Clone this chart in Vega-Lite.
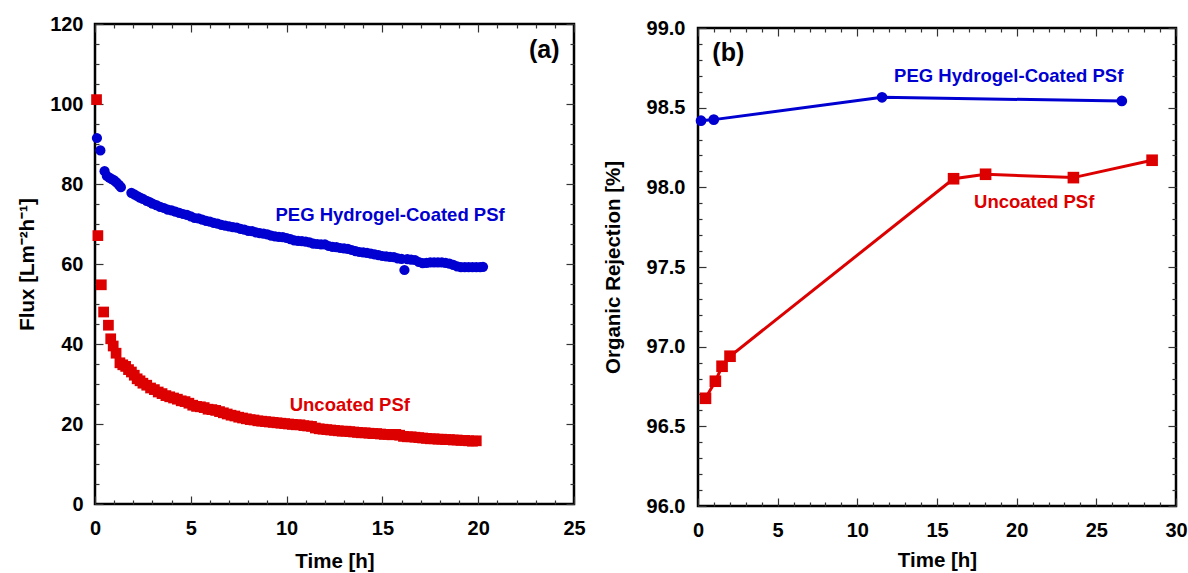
{
  "$schema": "https://vega.github.io/schema/vega-lite/v6.json",
  "padding": {"left": 16, "top": 12, "right": 0, "bottom": 0},
  "background": "white",
  "config": {
    "view": {"stroke": "black", "strokeWidth": 2.5},
    "axis": {
      "labelFont": "Liberation Sans", "labelFontWeight": "bold", "labelFontSize": 20, "labelColor": "black",
      "titleFont": "Liberation Sans", "titleFontWeight": "bold", "titleFontSize": 20.5, "titleColor": "black",
      "domain": false, "grid": false, "tickColor": "#333", "tickWidth": 1.2,
      "labelFlush": false, "labelOverlap": false
    },
    "text": {"font": "Liberation Sans", "fontWeight": "bold"}
  },
  "datasets": {
    "flux": [
      {"series": "coated", "t": 0.1, "flux": 91.5},
      {"series": "coated", "t": 0.28, "flux": 88.4},
      {"series": "coated", "t": 0.5, "flux": 83.2},
      {"series": "coated", "t": 0.62, "flux": 82.0},
      {"series": "coated", "t": 0.75, "flux": 81.6},
      {"series": "coated", "t": 0.88, "flux": 81.2},
      {"series": "coated", "t": 1.0, "flux": 80.9},
      {"series": "coated", "t": 1.12, "flux": 80.4},
      {"series": "coated", "t": 1.25, "flux": 79.8},
      {"series": "coated", "t": 1.35, "flux": 79.2},
      {"series": "coated", "t": 1.9, "flux": 77.8},
      {"series": "coated", "t": 2.05, "flux": 77.4},
      {"series": "coated", "t": 2.2, "flux": 77.0},
      {"series": "coated", "t": 2.35, "flux": 76.6},
      {"series": "coated", "t": 2.5, "flux": 76.3},
      {"series": "coated", "t": 2.7, "flux": 75.8},
      {"series": "coated", "t": 2.85, "flux": 75.5},
      {"series": "coated", "t": 3.0, "flux": 75.1},
      {"series": "coated", "t": 3.2, "flux": 74.7},
      {"series": "coated", "t": 3.4, "flux": 74.3},
      {"series": "coated", "t": 3.6, "flux": 74.0},
      {"series": "coated", "t": 3.8, "flux": 73.6},
      {"series": "coated", "t": 4.0, "flux": 73.4},
      {"series": "coated", "t": 4.2, "flux": 73.1},
      {"series": "coated", "t": 4.4, "flux": 72.8},
      {"series": "coated", "t": 4.6, "flux": 72.5},
      {"series": "coated", "t": 4.8, "flux": 72.3},
      {"series": "coated", "t": 5.0, "flux": 71.9},
      {"series": "coated", "t": 5.2, "flux": 71.5},
      {"series": "coated", "t": 5.4, "flux": 71.4},
      {"series": "coated", "t": 5.6, "flux": 71.1},
      {"series": "coated", "t": 5.8, "flux": 70.8},
      {"series": "coated", "t": 6.0, "flux": 70.6},
      {"series": "coated", "t": 6.2, "flux": 70.3},
      {"series": "coated", "t": 6.4, "flux": 70.1},
      {"series": "coated", "t": 6.6, "flux": 69.8},
      {"series": "coated", "t": 6.8, "flux": 69.6},
      {"series": "coated", "t": 7.0, "flux": 69.4},
      {"series": "coated", "t": 7.2, "flux": 69.2},
      {"series": "coated", "t": 7.4, "flux": 69.1},
      {"series": "coated", "t": 7.6, "flux": 68.8},
      {"series": "coated", "t": 7.8, "flux": 68.6},
      {"series": "coated", "t": 8.0, "flux": 68.3},
      {"series": "coated", "t": 8.2, "flux": 68.2},
      {"series": "coated", "t": 8.4, "flux": 67.9},
      {"series": "coated", "t": 8.6, "flux": 67.7},
      {"series": "coated", "t": 8.8, "flux": 67.6},
      {"series": "coated", "t": 9.0, "flux": 67.4},
      {"series": "coated", "t": 9.2, "flux": 67.1},
      {"series": "coated", "t": 9.4, "flux": 66.9},
      {"series": "coated", "t": 9.6, "flux": 66.8},
      {"series": "coated", "t": 9.8, "flux": 66.7},
      {"series": "coated", "t": 10.0, "flux": 66.5},
      {"series": "coated", "t": 10.2, "flux": 66.2},
      {"series": "coated", "t": 10.4, "flux": 65.9},
      {"series": "coated", "t": 10.6, "flux": 65.8},
      {"series": "coated", "t": 10.8, "flux": 65.7},
      {"series": "coated", "t": 11.0, "flux": 65.6},
      {"series": "coated", "t": 11.2, "flux": 65.4},
      {"series": "coated", "t": 11.4, "flux": 65.1},
      {"series": "coated", "t": 11.6, "flux": 65.0},
      {"series": "coated", "t": 11.8, "flux": 64.9},
      {"series": "coated", "t": 12.0, "flux": 64.9},
      {"series": "coated", "t": 12.2, "flux": 64.5},
      {"series": "coated", "t": 12.4, "flux": 64.3},
      {"series": "coated", "t": 12.6, "flux": 64.2},
      {"series": "coated", "t": 12.8, "flux": 64.0},
      {"series": "coated", "t": 13.0, "flux": 63.9},
      {"series": "coated", "t": 13.2, "flux": 63.8},
      {"series": "coated", "t": 13.4, "flux": 63.5},
      {"series": "coated", "t": 13.6, "flux": 63.2},
      {"series": "coated", "t": 13.8, "flux": 63.0},
      {"series": "coated", "t": 14.0, "flux": 62.9},
      {"series": "coated", "t": 14.2, "flux": 62.8},
      {"series": "coated", "t": 14.4, "flux": 62.6},
      {"series": "coated", "t": 14.6, "flux": 62.4},
      {"series": "coated", "t": 14.8, "flux": 62.2},
      {"series": "coated", "t": 15.0, "flux": 62.0},
      {"series": "coated", "t": 15.2, "flux": 61.9},
      {"series": "coated", "t": 15.4, "flux": 61.8},
      {"series": "coated", "t": 15.6, "flux": 61.7},
      {"series": "coated", "t": 15.8, "flux": 61.4},
      {"series": "coated", "t": 16.0, "flux": 61.3},
      {"series": "coated", "t": 16.15, "flux": 58.5},
      {"series": "coated", "t": 16.3, "flux": 61.2},
      {"series": "coated", "t": 16.5, "flux": 61.1},
      {"series": "coated", "t": 16.7, "flux": 61.0},
      {"series": "coated", "t": 16.9, "flux": 60.5},
      {"series": "coated", "t": 17.1, "flux": 60.2},
      {"series": "coated", "t": 17.3, "flux": 60.3},
      {"series": "coated", "t": 17.5, "flux": 60.4},
      {"series": "coated", "t": 17.7, "flux": 60.4},
      {"series": "coated", "t": 17.9, "flux": 60.4},
      {"series": "coated", "t": 18.1, "flux": 60.4},
      {"series": "coated", "t": 18.3, "flux": 60.3},
      {"series": "coated", "t": 18.5, "flux": 60.1},
      {"series": "coated", "t": 18.7, "flux": 59.8},
      {"series": "coated", "t": 18.9, "flux": 59.4},
      {"series": "coated", "t": 19.1, "flux": 59.2},
      {"series": "coated", "t": 19.3, "flux": 59.2},
      {"series": "coated", "t": 19.5, "flux": 59.2},
      {"series": "coated", "t": 19.7, "flux": 59.2},
      {"series": "coated", "t": 19.9, "flux": 59.2},
      {"series": "coated", "t": 20.1, "flux": 59.2},
      {"series": "coated", "t": 20.25, "flux": 59.3},
      {"series": "uncoated", "t": 0.08, "flux": 101.1},
      {"series": "uncoated", "t": 0.15, "flux": 67.1},
      {"series": "uncoated", "t": 0.33, "flux": 54.8},
      {"series": "uncoated", "t": 0.45, "flux": 48.0},
      {"series": "uncoated", "t": 0.7, "flux": 44.7},
      {"series": "uncoated", "t": 0.82, "flux": 41.3},
      {"series": "uncoated", "t": 0.95, "flux": 39.5},
      {"series": "uncoated", "t": 1.1, "flux": 37.7},
      {"series": "uncoated", "t": 1.3, "flux": 35.3},
      {"series": "uncoated", "t": 1.45, "flux": 34.8},
      {"series": "uncoated", "t": 1.6, "flux": 34.4},
      {"series": "uncoated", "t": 1.75, "flux": 33.6},
      {"series": "uncoated", "t": 1.9, "flux": 33.0},
      {"series": "uncoated", "t": 2.05, "flux": 32.2},
      {"series": "uncoated", "t": 2.2, "flux": 31.3},
      {"series": "uncoated", "t": 2.35, "flux": 30.8},
      {"series": "uncoated", "t": 2.5, "flux": 30.2},
      {"series": "uncoated", "t": 2.7, "flux": 29.7},
      {"series": "uncoated", "t": 2.9, "flux": 29.0},
      {"series": "uncoated", "t": 3.1, "flux": 28.6},
      {"series": "uncoated", "t": 3.3, "flux": 28.0},
      {"series": "uncoated", "t": 3.5, "flux": 27.6},
      {"series": "uncoated", "t": 3.7, "flux": 27.1},
      {"series": "uncoated", "t": 3.9, "flux": 26.8},
      {"series": "uncoated", "t": 4.1, "flux": 26.5},
      {"series": "uncoated", "t": 4.3, "flux": 26.2},
      {"series": "uncoated", "t": 4.5, "flux": 25.8},
      {"series": "uncoated", "t": 4.7, "flux": 25.6},
      {"series": "uncoated", "t": 4.9, "flux": 25.2},
      {"series": "uncoated", "t": 5.1, "flux": 24.7},
      {"series": "uncoated", "t": 5.3, "flux": 24.4},
      {"series": "uncoated", "t": 5.5, "flux": 24.3},
      {"series": "uncoated", "t": 5.7, "flux": 24.1},
      {"series": "uncoated", "t": 5.9, "flux": 23.7},
      {"series": "uncoated", "t": 6.1, "flux": 23.6},
      {"series": "uncoated", "t": 6.3, "flux": 23.4},
      {"series": "uncoated", "t": 6.5, "flux": 23.1},
      {"series": "uncoated", "t": 6.7, "flux": 22.8},
      {"series": "uncoated", "t": 6.9, "flux": 22.5},
      {"series": "uncoated", "t": 7.1, "flux": 22.2},
      {"series": "uncoated", "t": 7.3, "flux": 22.0},
      {"series": "uncoated", "t": 7.5, "flux": 21.7},
      {"series": "uncoated", "t": 7.7, "flux": 21.5},
      {"series": "uncoated", "t": 7.9, "flux": 21.3},
      {"series": "uncoated", "t": 8.1, "flux": 21.1},
      {"series": "uncoated", "t": 8.3, "flux": 21.0},
      {"series": "uncoated", "t": 8.5, "flux": 20.8},
      {"series": "uncoated", "t": 8.7, "flux": 20.7},
      {"series": "uncoated", "t": 8.9, "flux": 20.6},
      {"series": "uncoated", "t": 9.1, "flux": 20.5},
      {"series": "uncoated", "t": 9.3, "flux": 20.4},
      {"series": "uncoated", "t": 9.5, "flux": 20.3},
      {"series": "uncoated", "t": 9.7, "flux": 20.2},
      {"series": "uncoated", "t": 9.9, "flux": 20.1},
      {"series": "uncoated", "t": 10.1, "flux": 20.0},
      {"series": "uncoated", "t": 10.3, "flux": 19.9},
      {"series": "uncoated", "t": 10.5, "flux": 19.8},
      {"series": "uncoated", "t": 10.7, "flux": 19.8},
      {"series": "uncoated", "t": 10.9, "flux": 19.6},
      {"series": "uncoated", "t": 11.1, "flux": 19.5},
      {"series": "uncoated", "t": 11.3, "flux": 19.4},
      {"series": "uncoated", "t": 11.5, "flux": 19.0},
      {"series": "uncoated", "t": 11.7, "flux": 18.8},
      {"series": "uncoated", "t": 11.9, "flux": 18.7},
      {"series": "uncoated", "t": 12.1, "flux": 18.6},
      {"series": "uncoated", "t": 12.3, "flux": 18.5},
      {"series": "uncoated", "t": 12.5, "flux": 18.4},
      {"series": "uncoated", "t": 12.7, "flux": 18.3},
      {"series": "uncoated", "t": 12.9, "flux": 18.2},
      {"series": "uncoated", "t": 13.1, "flux": 18.2},
      {"series": "uncoated", "t": 13.3, "flux": 18.1},
      {"series": "uncoated", "t": 13.5, "flux": 18.0},
      {"series": "uncoated", "t": 13.7, "flux": 17.9},
      {"series": "uncoated", "t": 13.9, "flux": 17.8},
      {"series": "uncoated", "t": 14.1, "flux": 17.8},
      {"series": "uncoated", "t": 14.3, "flux": 17.7},
      {"series": "uncoated", "t": 14.5, "flux": 17.6},
      {"series": "uncoated", "t": 14.7, "flux": 17.6},
      {"series": "uncoated", "t": 14.9, "flux": 17.5},
      {"series": "uncoated", "t": 15.1, "flux": 17.4},
      {"series": "uncoated", "t": 15.3, "flux": 17.4},
      {"series": "uncoated", "t": 15.5, "flux": 17.3},
      {"series": "uncoated", "t": 15.7, "flux": 17.4},
      {"series": "uncoated", "t": 15.9, "flux": 17.2},
      {"series": "uncoated", "t": 16.1, "flux": 16.9},
      {"series": "uncoated", "t": 16.3, "flux": 16.8},
      {"series": "uncoated", "t": 16.5, "flux": 16.8},
      {"series": "uncoated", "t": 16.7, "flux": 16.7},
      {"series": "uncoated", "t": 16.9, "flux": 16.6},
      {"series": "uncoated", "t": 17.1, "flux": 16.5},
      {"series": "uncoated", "t": 17.3, "flux": 16.4},
      {"series": "uncoated", "t": 17.5, "flux": 16.3},
      {"series": "uncoated", "t": 17.7, "flux": 16.3},
      {"series": "uncoated", "t": 17.9, "flux": 16.2},
      {"series": "uncoated", "t": 18.1, "flux": 16.2},
      {"series": "uncoated", "t": 18.3, "flux": 16.1},
      {"series": "uncoated", "t": 18.5, "flux": 16.1},
      {"series": "uncoated", "t": 18.7, "flux": 16.0},
      {"series": "uncoated", "t": 18.9, "flux": 16.0},
      {"series": "uncoated", "t": 19.1, "flux": 15.9},
      {"series": "uncoated", "t": 19.3, "flux": 15.9},
      {"series": "uncoated", "t": 19.5, "flux": 15.8},
      {"series": "uncoated", "t": 19.7, "flux": 15.7},
      {"series": "uncoated", "t": 19.9, "flux": 15.8}
    ],
    "rej": [
      {"series": "coated", "t": 0.19, "rej": 98.418},
      {"series": "coated", "t": 0.99, "rej": 98.425},
      {"series": "coated", "t": 11.55, "rej": 98.565},
      {"series": "coated", "t": 26.6, "rej": 98.542},
      {"series": "uncoated", "t": 0.47, "rej": 96.676},
      {"series": "uncoated", "t": 1.09, "rej": 96.783},
      {"series": "uncoated", "t": 1.51, "rej": 96.877},
      {"series": "uncoated", "t": 2.01, "rej": 96.94},
      {"series": "uncoated", "t": 16.04, "rej": 98.054},
      {"series": "uncoated", "t": 18.05, "rej": 98.082},
      {"series": "uncoated", "t": 23.56, "rej": 98.061},
      {"series": "uncoated", "t": 28.5, "rej": 98.17}
    ],
    "notesA": [
      {"series": "coated", "label": "PEG Hydrogel-Coated PSf", "t": 15.4, "flux": 72.3},
      {"series": "uncoated", "label": "Uncoated PSf", "t": 13.3, "flux": 24.8}
    ],
    "notesB": [
      {"series": "coated", "label": "PEG Hydrogel-Coated PSf", "t": 19.5, "rej": 98.697},
      {"series": "uncoated", "label": "Uncoated PSf", "t": 21.1, "rej": 97.906}
    ],
    "panelA": [{"label": "(a)", "t": 23.45, "flux": 113.4}],
    "panelB": [{"label": "(b)", "t": 1.9, "rej": 98.84}]
  },
  "hconcat": [
    {
      "width": 479,
      "height": 480,
      "resolve": {"axis": {"x": "independent", "y": "independent"}},
      "layer": [
        {
          "data": {"name": "flux"},
          "transform": [{"filter": "datum.series === 'coated'"}],
          "mark": {"type": "circle", "size": 105, "opacity": 1},
          "encoding": {
            "x": {"field": "t", "type": "quantitative", "scale": {"domain": [0, 25], "nice": false},
              "axis": {"orient": "bottom", "title": "Time [h]",
                "values": [0,1,2,3,4,5,6,7,8,9,10,11,12,13,14,15,16,17,18,19,20,21,22,23,24,25],
                "tickSize": {"condition": {"test": "datum.value % 5 === 0", "value": -8}, "value": -4},
                "labelExpr": "datum.value % 5 === 0 ? datum.label : ''",
                "labelPadding": 22, "titlePadding": 9}},
            "y": {"field": "flux", "type": "quantitative", "scale": {"domain": [0, 120], "nice": false},
              "axis": {"orient": "left", "title": "Flux [Lm⁻²h⁻¹]",
                "values": [0,5,10,15,20,25,30,35,40,45,50,55,60,65,70,75,80,85,90,95,100,105,110,115,120],
                "tickSize": {"condition": {"test": "datum.value % 20 === 0", "value": -8}, "value": -4},
                "labelExpr": "datum.value % 20 === 0 ? datum.label : ''",
                "labelPadding": 20, "titlePadding": 12}},
            "color": {"field": "series", "type": "nominal", "legend": null,
              "scale": {"domain": ["coated", "uncoated"], "range": ["#0000d0", "#dd0000"]}}
          }
        },
        {
          "data": {"name": "flux"},
          "transform": [{"filter": "datum.series === 'uncoated'"}],
          "mark": {"type": "square", "size": 115, "opacity": 1},
          "encoding": {
            "x": {"field": "t", "type": "quantitative", "scale": {"domain": [0, 25], "nice": false},
              "axis": {"orient": "top", "title": null, "labels": false,
                "values": [0,1,2,3,4,5,6,7,8,9,10,11,12,13,14,15,16,17,18,19,20,21,22,23,24,25],
                "tickSize": {"condition": {"test": "datum.value % 5 === 0", "value": -8}, "value": -4}}},
            "y": {"field": "flux", "type": "quantitative", "scale": {"domain": [0, 120], "nice": false},
              "axis": {"orient": "right", "title": null, "labels": false,
                "values": [0,5,10,15,20,25,30,35,40,45,50,55,60,65,70,75,80,85,90,95,100,105,110,115,120],
                "tickSize": {"condition": {"test": "datum.value % 20 === 0", "value": -8}, "value": -4}}},
            "color": {"field": "series", "type": "nominal", "legend": null,
              "scale": {"domain": ["coated", "uncoated"], "range": ["#0000d0", "#dd0000"]}}
          }
        },
        {
          "data": {"name": "notesA"},
          "mark": {"type": "text", "fontSize": 18.5, "align": "center", "baseline": "middle"},
          "encoding": {
            "x": {"field": "t", "type": "quantitative", "axis": null},
            "y": {"field": "flux", "type": "quantitative", "axis": null},
            "text": {"field": "label"},
            "color": {"field": "series", "type": "nominal", "legend": null,
              "scale": {"domain": ["coated", "uncoated"], "range": ["#0000d0", "#dd0000"]}}
          }
        },
        {
          "data": {"name": "panelA"},
          "mark": {"type": "text", "fontSize": 25, "align": "center", "baseline": "middle", "color": "black"},
          "encoding": {
            "x": {"field": "t", "type": "quantitative", "axis": null},
            "y": {"field": "flux", "type": "quantitative", "axis": null},
            "text": {"field": "label"}
          }
        }
      ]
    },
    {
      "spacing": -9,
      "vconcat": [
        {
          "width": 478,
          "height": 1,
          "view": {"stroke": null},
          "data": {"values": []},
          "mark": "point",
          "encoding": {}
        },
        {
          "width": 478,
          "height": 478,
          "resolve": {"axis": {"x": "independent", "y": "independent"}},
          "layer": [
            {
              "data": {"name": "rej"},
              "mark": {"type": "line", "strokeWidth": 3},
              "encoding": {
                "x": {"field": "t", "type": "quantitative", "scale": {"domain": [0, 30], "nice": false},
                  "axis": {"orient": "bottom", "title": "Time [h]",
                    "values": [0,1,2,3,4,5,6,7,8,9,10,11,12,13,14,15,16,17,18,19,20,21,22,23,24,25,26,27,28,29,30],
                    "tickSize": {"condition": {"test": "datum.value % 5 === 0", "value": -8}, "value": -4},
                    "labelExpr": "datum.value % 5 === 0 ? datum.label : ''",
                    "labelPadding": 22, "titlePadding": 6}},
                "y": {"field": "rej", "type": "quantitative", "scale": {"domain": [96, 99], "nice": false, "zero": false},
                  "axis": {"orient": "left", "title": "Organic Rejection [%]", "format": ".1f",
                    "values": [96.0,96.1,96.2,96.3,96.4,96.5,96.6,96.7,96.8,96.9,97.0,97.1,97.2,97.3,97.4,97.5,97.6,97.7,97.8,97.9,98.0,98.1,98.2,98.3,98.4,98.5,98.6,98.7,98.8,98.9,99.0],
                    "tickSize": {"condition": {"test": "round(datum.value * 10) % 5 === 0", "value": -8}, "value": -4},
                    "labelExpr": "round(datum.value * 10) % 5 === 0 ? datum.label : ''",
                    "labelPadding": 21, "titlePadding": 23}},
                "color": {"field": "series", "type": "nominal", "legend": null,
                  "scale": {"domain": ["coated", "uncoated"], "range": ["#0000d0", "#dd0000"]}}
              }
            },
            {
              "data": {"name": "rej"},
              "transform": [{"filter": "datum.series === 'coated'"}],
              "mark": {"type": "circle", "size": 115, "opacity": 1},
              "encoding": {
                "x": {"field": "t", "type": "quantitative", "scale": {"domain": [0, 30], "nice": false},
                  "axis": {"orient": "top", "title": null, "labels": false,
                    "values": [0,1,2,3,4,5,6,7,8,9,10,11,12,13,14,15,16,17,18,19,20,21,22,23,24,25,26,27,28,29,30],
                    "tickSize": {"condition": {"test": "datum.value % 5 === 0", "value": -8}, "value": -4}}},
                "y": {"field": "rej", "type": "quantitative", "scale": {"domain": [96, 99], "nice": false, "zero": false},
                  "axis": {"orient": "right", "title": null, "labels": false,
                    "values": [96.0,96.1,96.2,96.3,96.4,96.5,96.6,96.7,96.8,96.9,97.0,97.1,97.2,97.3,97.4,97.5,97.6,97.7,97.8,97.9,98.0,98.1,98.2,98.3,98.4,98.5,98.6,98.7,98.8,98.9,99.0],
                    "tickSize": {"condition": {"test": "round(datum.value * 10) % 5 === 0", "value": -8}, "value": -4}}},
                "color": {"field": "series", "type": "nominal", "legend": null,
                  "scale": {"domain": ["coated", "uncoated"], "range": ["#0000d0", "#dd0000"]}}
              }
            },
            {
              "data": {"name": "rej"},
              "transform": [{"filter": "datum.series === 'uncoated'"}],
              "mark": {"type": "square", "size": 135, "opacity": 1},
              "encoding": {
                "x": {"field": "t", "type": "quantitative", "axis": null},
                "y": {"field": "rej", "type": "quantitative", "axis": null},
                "color": {"field": "series", "type": "nominal", "legend": null,
                  "scale": {"domain": ["coated", "uncoated"], "range": ["#0000d0", "#dd0000"]}}
              }
            },
            {
              "data": {"name": "notesB"},
              "mark": {"type": "text", "fontSize": 18.5, "align": "center", "baseline": "middle"},
              "encoding": {
                "x": {"field": "t", "type": "quantitative", "axis": null},
                "y": {"field": "rej", "type": "quantitative", "axis": null},
                "text": {"field": "label"},
                "color": {"field": "series", "type": "nominal", "legend": null,
                  "scale": {"domain": ["coated", "uncoated"], "range": ["#0000d0", "#dd0000"]}}
              }
            },
            {
              "data": {"name": "panelB"},
              "mark": {"type": "text", "fontSize": 25, "align": "center", "baseline": "middle", "color": "black"},
              "encoding": {
                "x": {"field": "t", "type": "quantitative", "axis": null},
                "y": {"field": "rej", "type": "quantitative", "axis": null},
                "text": {"field": "label"}
              }
            }
          ]
        }
      ]
    }
  ],
  "spacing": 14
}
